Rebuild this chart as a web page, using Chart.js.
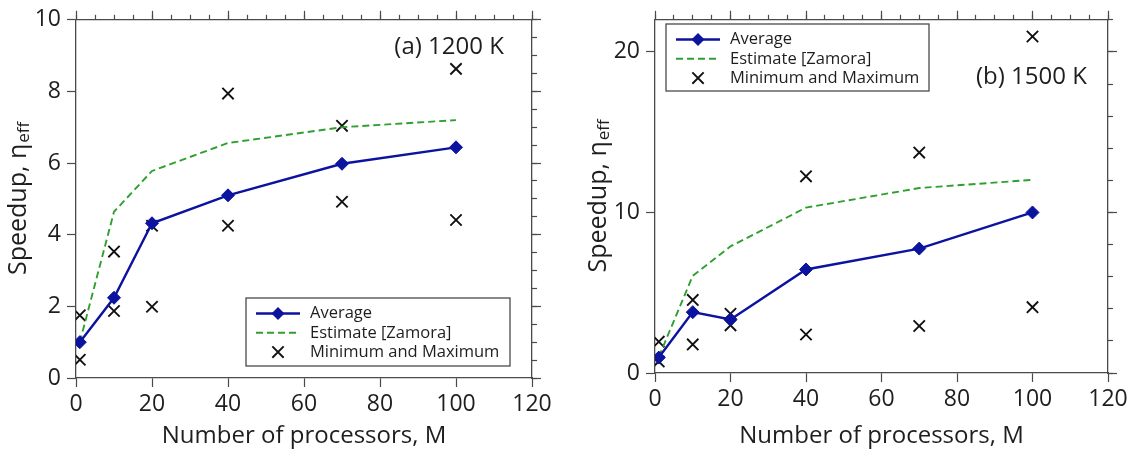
<!DOCTYPE html>
<html>
<head>
<meta charset="utf-8">
<script src="https://cdn.jsdelivr.net/npm/chart.js@4.4.1/dist/chart.umd.min.js"></script>
<style>
  html, body { margin: 0; padding: 0; background: #fff; }
  body { width: 1139px; height: 453px; position: relative; overflow: hidden; }
  canvas { position: absolute; top: 0; }
  #chartA { left: 0; }
  #chartB { left: 580px; }
</style>
</head>
<body>
<canvas id="chartA" width="560" height="453"></canvas>
<canvas id="chartB" width="559" height="453"></canvas>
<script>
const processors = [1, 10, 20, 40, 70, 100]
const xTicks = [0, 20, 40, 60, 80, 100, 120]

// (a) 1200 K
const averageA = [1.0, 2.24, 4.32, 5.10, 5.98, 6.44]
const estimateA = [1.0, 4.64, 5.78, 6.56, 7.0, 7.2]
const minimumA = [0.51, 1.87, 1.99, 4.25, 4.92, 4.41]
const maximumA = [1.75, 3.53, 4.25, 7.94, 7.04, 8.63]
const yTicksA = [0, 2, 4, 6, 8, 10]

// (b) 1500 K
const averageB = [0.96, 3.79, 3.34, 6.45, 7.75, 10.0]
const estimateB = [1.0, 6.05, 7.89, 10.3, 11.52, 12.03]
const minimumB = [0.72, 1.78, 2.97, 2.40, 2.93, 4.10]
const maximumB = [1.95, 4.55, 3.69, 12.25, 13.73, 20.96]
const yTicksB = [0, 10, 20]

const legendLabels = ['Average', 'Estimate [Zamora]', 'Minimum and Maximum']

const axisColor = '#4a4a4a'
const textColor = '#1e1e1e'
const blue = '#0c139e'
const green = '#2f9f2f'
const fontFamily = "'Open Sans', 'DejaVu Sans', sans-serif"

Chart.defaults.font.family = fontFamily
Chart.defaults.color = textColor

const pts = (xs, ys) => xs.map((x, i) => ({ x: x, y: ys[i] }))

// y title with subscript, drawn rotated at the left of the canvas
const yTitlePlugin = {
    id: 'yTitle',
    afterDraw(chart, args, opts) {
        const { ctx, chartArea } = chart
        ctx.save()
        ctx.translate(opts.x, (chartArea.top + chartArea.bottom) / 2)
        ctx.rotate(-Math.PI / 2)
        ctx.fillStyle = textColor
        ctx.textBaseline = 'middle'
        ctx.textAlign = 'left'
        ctx.font = '25px ' + fontFamily
        const w1 = ctx.measureText(opts.text).width
        ctx.font = '17px ' + fontFamily
        const w2 = ctx.measureText(opts.sub).width
        const x0 = -(w1 + w2) / 2
        ctx.font = '25px ' + fontFamily
        ctx.fillText(opts.text, x0, 0)
        ctx.font = '17px ' + fontFamily
        ctx.fillText(opts.sub, x0 + w1 + 1, 5)
        ctx.restore()
    }
}

const panelLabelPlugin = {
    id: 'panelLabel',
    afterDraw(chart, args, opts) {
        const { ctx, scales } = chart
        ctx.save()
        ctx.font = '24px ' + fontFamily
        ctx.fillStyle = textColor
        ctx.textAlign = 'right'
        ctx.textBaseline = 'middle'
        ctx.fillText(opts.text, scales.x.getPixelForValue(opts.at[0]), scales.y.getPixelForValue(opts.at[1]))
        ctx.restore()
    }
}

function drawMarker(ctx, style, x, y, r) {
    ctx.beginPath()
    if (style === 'rectRot') {
        ctx.moveTo(x, y - r)
        ctx.lineTo(x + r, y)
        ctx.lineTo(x, y + r)
        ctx.lineTo(x - r, y)
        ctx.closePath()
        ctx.fill()
    } else {
        const d = r * Math.SQRT1_2
        ctx.moveTo(x - d, y - d)
        ctx.lineTo(x + d, y + d)
        ctx.moveTo(x + d, y - d)
        ctx.lineTo(x - d, y + d)
        ctx.stroke()
    }
}

const boxLegendPlugin = {
    id: 'boxLegend',
    afterDraw(chart, args, opts) {
        const { ctx } = chart
        ctx.save()
        ctx.strokeStyle = axisColor
        ctx.lineWidth = 1.3
        ctx.fillStyle = '#fff'
        ctx.fillRect(opts.left, opts.top, opts.width, opts.height)
        ctx.strokeRect(opts.left, opts.top, opts.width, opts.height)
        chart.data.datasets.forEach((ds, i) => {
            const y = opts.top + 15.5 + i * 19.3
            const x1 = opts.left + 10
            const x2 = opts.left + 54
            ctx.strokeStyle = ds.borderColor
            ctx.fillStyle = ds.borderColor
            if (ds.showLine) {
                ctx.lineWidth = ds.borderWidth
                ctx.setLineDash(ds.borderDash || [])
                ctx.beginPath()
                ctx.moveTo(x1, y)
                ctx.lineTo(x2, y)
                ctx.stroke()
                ctx.setLineDash([])
            }
            if (ds.pointRadius > 0) {
                ctx.lineWidth = ds.pointBorderWidth || 1
                drawMarker(ctx, ds.pointStyle, (x1 + x2) / 2, y, ds.pointRadius)
            }
            ctx.fillStyle = textColor
            ctx.font = '16.5px ' + fontFamily
            ctx.textAlign = 'left'
            ctx.textBaseline = 'middle'
            ctx.fillText(ds.label, opts.left + 64, y)
        })
        ctx.restore()
    }
}

function tickAxis(position, max, values, step, len, withBorder) {
    return {
        type: 'linear',
        position: position,
        min: 0,
        max: max,
        afterBuildTicks: values ? s => { s.ticks = values.map(v => ({ value: v })) } : undefined,
        grid: { drawOnChartArea: false, color: axisColor, tickLength: len, tickWidth: 1.2 },
        border: { display: withBorder, color: axisColor, width: 1.3 },
        ticks: { display: false, stepSize: step, autoSkip: false, maxTicksLimit: 1000 },
        afterFit: s => { if (s.isHorizontal()) s.height = 0; else s.width = 0 }
    }
}

function buildChart(id, d) {
    return new Chart(document.getElementById(id).getContext('2d'), {
        type: 'scatter',
        data: {
            datasets: [{
                label: legendLabels[0],
                data: pts(processors, d.average),
                showLine: true,
                borderColor: blue,
                backgroundColor: blue,
                borderWidth: 2.4,
                pointStyle: 'rectRot',
                pointRadius: 6.5,
                pointBorderWidth: 1,
                pointBackgroundColor: blue,
                pointBorderColor: blue
            }, {
                label: legendLabels[1],
                data: pts(processors, d.estimate),
                showLine: true,
                borderColor: green,
                borderWidth: 1.9,
                borderDash: [7, 4],
                pointRadius: 0
            }, {
                label: legendLabels[2],
                data: pts(processors, d.minimum).concat(pts(processors, d.maximum)),
                showLine: false,
                borderColor: '#111',
                backgroundColor: '#111',
                pointStyle: 'crossRot',
                pointRadius: 8,
                pointBorderWidth: 1.9
            }]
        },
        options: {
            responsive: false,
            animation: false,
            devicePixelRatio: 1,
            layout: { autoPadding: false, padding: d.padding },
            scales: {
                x: {
                    type: 'linear',
                    position: 'bottom',
                    min: 0,
                    max: 120,
                    afterBuildTicks: s => { s.ticks = xTicks.map(v => ({ value: v })) },
                    grid: { drawOnChartArea: false, color: axisColor, tickLength: 9, tickWidth: 1.2 },
                    border: { color: axisColor, width: 1.3 },
                    ticks: { color: textColor, font: { size: 23 }, padding: 4, maxRotation: 0, autoSkip: false },
                    title: {
                        display: true,
                        text: 'Number of processors, M',
                        color: textColor,
                        font: { size: 24 },
                        padding: { top: 0, bottom: 2 }
                    },
                    afterFit: s => { s.height = d.xHeight }
                },
                xMinor: tickAxis('bottom', 120, null, 5, 5, false),
                xTop: tickAxis('top', 120, xTicks, 20, 9, true),
                xTopMinor: tickAxis('top', 120, null, 5, 5, false),
                y: {
                    type: 'linear',
                    position: 'left',
                    min: 0,
                    max: d.yMax,
                    afterBuildTicks: s => { s.ticks = d.yTicks.map(v => ({ value: v })) },
                    grid: { drawOnChartArea: false, color: axisColor, tickLength: 9, tickWidth: 1.2 },
                    border: { color: axisColor, width: 1.3 },
                    ticks: { color: textColor, font: { size: 23 }, padding: 6 },
                    afterFit: s => { s.width = d.yWidth }
                },
                yMinor: tickAxis('left', d.yMax, null, d.yMinor, 5, false),
                yRight: tickAxis('right', d.yMax, d.yTicks, d.yMinor, 9, true),
                yRightMinor: tickAxis('right', d.yMax, null, d.yMinor, 5, false)
            },
            plugins: {
                legend: { display: false },
                tooltip: { enabled: false },
                yTitle: { x: 19, text: 'Speedup, η', sub: 'eff' },
                panelLabel: d.label,
                boxLegend: d.legend
            }
        },
        plugins: [yTitlePlugin, panelLabelPlugin, boxLegendPlugin]
    })
}

buildChart('chartA', {
    average: averageA, estimate: estimateA, minimum: minimumA, maximum: maximumA,
    yMax: 10, yTicks: yTicksA, yMinor: 0.5,
    padding: { left: 0, top: 19, right: 28, bottom: 0 },
    yWidth: 76, xHeight: 75,
    label: { text: '(a) 1200 K', at: [112.6, 9.25] },
    legend: { left: 246, top: 298, width: 264, height: 68 }
})

buildChart('chartB', {
    average: averageB, estimate: estimateB, minimum: minimumB, maximum: maximumB,
    yMax: 22, yTicks: yTicksB, yMinor: 2,
    padding: { left: 0, top: 14, right: 31, bottom: 0 },
    yWidth: 75, xHeight: 80,
    label: { text: '(b) 1500 K', at: [114.4, 18.44] },
    legend: { left: 86, top: 24, width: 263, height: 67 }
})
</script>
</body>
</html>
